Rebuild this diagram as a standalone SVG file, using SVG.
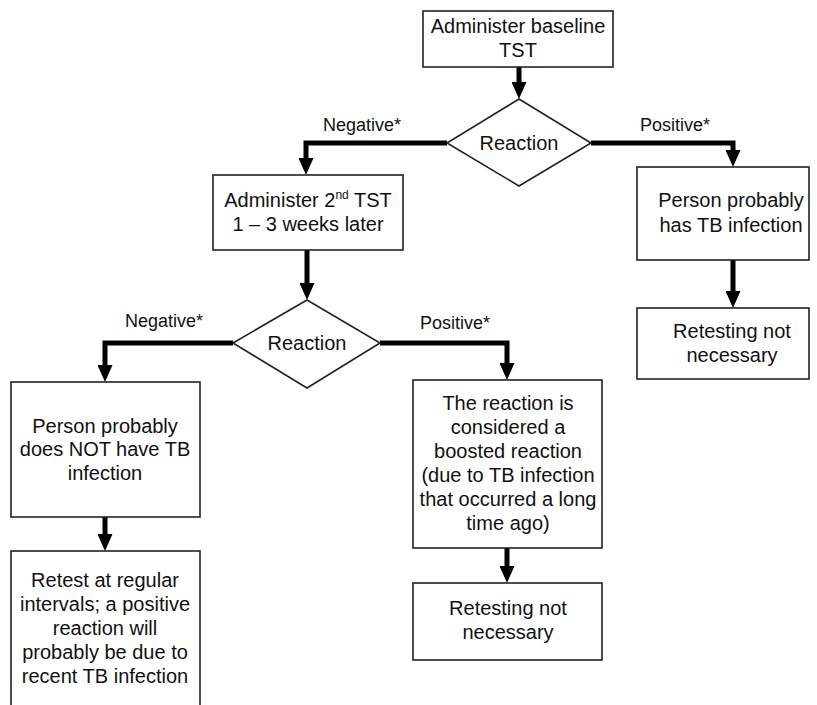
<svg xmlns="http://www.w3.org/2000/svg" width="817" height="705" viewBox="0 0 817 705">
<defs>
<style>
.box{fill:#fff;stroke:#222;stroke-width:1.6}
.t{font-family:"Liberation Sans",Arial,sans-serif;font-size:20px;fill:#111;text-anchor:middle}
.lbl{font-family:"Liberation Sans",Arial,sans-serif;font-size:18px;fill:#111}
.c{fill:none;stroke:#000;stroke-width:5;stroke-linejoin:miter;stroke-linecap:butt;marker-end:url(#ah)}
</style>
<marker id="ah" markerUnits="userSpaceOnUse" viewBox="0 0 17 15" markerWidth="17" markerHeight="15" refX="1" refY="7.5" orient="auto">
<path d="M0,0 L17,7.5 L0,15 Z" fill="#000"/>
</marker>
</defs>
<rect width="817" height="705" fill="#fff"/>

<g id="connectors">
<path class="c" d="M519,67 V83"/>
<path class="c" d="M447,143 H306 V159"/>
<path class="c" d="M591,143 H733 V151"/>
<path class="c" d="M307,250 V284"/>
<path class="c" d="M233,343 H105 V366"/>
<path class="c" d="M380,343 H507 V364"/>
<path class="c" d="M105,517 V535"/>
<path class="c" d="M507,548 V567"/>
<path class="c" d="M733,260 V292"/>
</g>

<g id="labels">
<text class="lbl" x="323" y="131">Negative*</text>
<text class="lbl" x="640" y="131">Positive*</text>
<text class="lbl" x="125" y="327">Negative*</text>
<text class="lbl" x="420" y="329">Positive*</text>
</g>

<g id="n1">
<rect class="box" x="423" y="11" width="190" height="56"/>
<text class="t" x="518" y="33">Administer baseline</text>
<text class="t" x="518" y="57">TST</text>
</g>

<g id="d1">
<polygon class="box" points="519,99 591,143 519,186 447,143"/>
<text class="t" x="519" y="150">Reaction</text>
</g>

<g id="n2">
<rect class="box" x="213" y="175" width="190" height="75"/>
<text class="t" x="308" y="207">Administer 2<tspan font-size="12" dy="-8">nd</tspan><tspan dy="8"> TST</tspan></text>
<text class="t" x="308" y="231">1 – 3 weeks later</text>
</g>

<g id="n3">
<rect class="box" x="637" y="167" width="172" height="93"/>
<text class="t" x="731" y="207">Person probably</text>
<text class="t" x="731" y="232">has TB infection</text>
</g>

<g id="n4">
<rect class="box" x="637" y="308" width="172" height="71"/>
<text class="t" x="732" y="338">Retesting not</text>
<text class="t" x="732" y="362">necessary</text>
</g>

<g id="d2">
<polygon class="box" points="307,300 380,343 307,388 233,343"/>
<text class="t" x="307" y="350">Reaction</text>
</g>

<g id="n5">
<rect class="box" x="11" y="382" width="189" height="135"/>
<text class="t" x="105" y="433">Person probably</text>
<text class="t" x="105" y="456">does NOT have TB</text>
<text class="t" x="105" y="480">infection</text>
</g>

<g id="n6">
<rect class="box" x="413" y="380" width="189" height="168"/>
<text class="t" x="508" y="410">The reaction is</text>
<text class="t" x="508" y="434">considered a</text>
<text class="t" x="508" y="458">boosted reaction</text>
<text class="t" x="508" y="482">(due to TB infection</text>
<text class="t" x="508" y="506">that occurred a long</text>
<text class="t" x="508" y="530">time ago)</text>
</g>

<g id="n7">
<rect class="box" x="11" y="551" width="189" height="170"/>
<text class="t" x="105" y="587">Retest at regular</text>
<text class="t" x="105" y="611">intervals; a positive</text>
<text class="t" x="105" y="635">reaction will</text>
<text class="t" x="105" y="659">probably be due to</text>
<text class="t" x="105" y="683">recent TB infection</text>
</g>

<g id="n8">
<rect class="box" x="413" y="583" width="189" height="77"/>
<text class="t" x="508" y="615">Retesting not</text>
<text class="t" x="508" y="639">necessary</text>
</g>
</svg>
